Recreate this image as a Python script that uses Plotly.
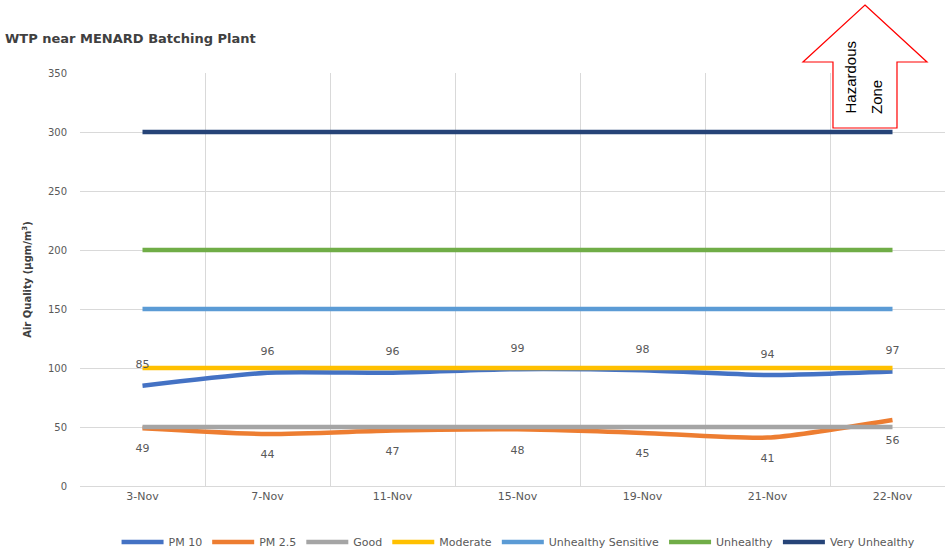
import plotly.graph_objects as go

categories = ["3-Nov", "7-Nov", "11-Nov", "15-Nov", "19-Nov", "21-Nov", "22-Nov"]
pm10 = [85, 96, 96, 99, 98, 94, 97]
pm25 = [49, 44, 47, 48, 45, 41, 56]
good = [50] * 7
moderate = [100] * 7
unhealthy_sensitive = [150] * 7
unhealthy = [200] * 7
very_unhealthy = [300] * 7

W, H = 945, 554
L, R, T, B = 80, 0, 73, 68
pw, ph = W - L - R, H - T - B
FONT = "DejaVu Sans, Arial"

def px(x):
    return (x - L) / pw

def py(y):
    return (H - B - y) / ph

fig = go.Figure()
series = [
    ("PM 10", pm10, "#4472C4"),
    ("PM 2.5", pm25, "#ED7D31"),
    ("Good", good, "#A5A5A5"),
    ("Moderate", moderate, "#FFC000"),
    ("Unhealthy Sensitive", unhealthy_sensitive, "#5B9BD5"),
    ("Unhealthy", unhealthy, "#70AD47"),
    ("Very Unhealthy", very_unhealthy, "#264478"),
]
for name, vals, col in series:
    fig.add_trace(go.Scatter(
        x=categories, y=vals, name=name, mode="lines",
        line=dict(color=col, width=4.5, shape="spline", smoothing=0.6),
    ))

# data labels
fig.add_trace(go.Scatter(
    x=categories, y=pm10, mode="markers+text", text=[str(v) for v in pm10],
    marker=dict(size=22, opacity=0),
    textposition="top center", showlegend=False, hoverinfo="skip",
    textfont=dict(size=11, color="#595959", family=FONT),
))
fig.add_trace(go.Scatter(
    x=categories, y=pm25, mode="markers+text", text=[str(v) for v in pm25],
    marker=dict(size=24, opacity=0),
    textposition="bottom center", showlegend=False, hoverinfo="skip",
    textfont=dict(size=11, color="#595959", family=FONT),
))

# Hazardous zone arrow
pts = [(865, 5), (927, 62), (897, 62), (897, 128), (833, 128), (833, 62), (803, 62)]
path = "M " + " L ".join(f"{px(x):.4f},{py(y):.4f}" for x, y in pts) + " Z"
fig.add_shape(type="path", path=path, xref="paper", yref="paper",
              line=dict(color="#FF0000", width=1.2), fillcolor="white", layer="above")
fig.add_annotation(x=px(850), y=py(116), xref="paper", yref="paper",
                   text="Hazardous", showarrow=False, textangle=-90,
                   xanchor="center", yanchor="bottom",
                   font=dict(size=15, color="#000000", family="Liberation Sans, Arial"))
fig.add_annotation(x=px(876), y=py(116), xref="paper", yref="paper",
                   text="Zone", showarrow=False, textangle=-90,
                   xanchor="center", yanchor="bottom",
                   font=dict(size=15, color="#000000", family="Liberation Sans, Arial"))

fig.update_layout(
    width=W, height=H,
    margin=dict(l=L, r=R, t=T, b=B, autoexpand=False),
    paper_bgcolor="white", plot_bgcolor="white",
    font=dict(family=FONT, color="#595959", size=11),
    title=dict(text="<b>WTP near MENARD Batching Plant</b>", x=5 / W, xanchor="left",
               y=1 - 38 / H, yanchor="middle",
               font=dict(size=13, color="#404040", family=FONT)),
    showlegend=True,
    legend=dict(orientation="h", x=0.507, xanchor="center", y=py(542), yanchor="middle",
                font=dict(size=11, color="#595959", family=FONT), tracegroupgap=0,
                itemwidth=42),
    xaxis=dict(type="category", range=[-0.5, 6.42], tickson="boundaries",
               showgrid=True, gridcolor="#D9D9D9", gridwidth=1, ticks="",
               showline=True, linecolor="#D9D9D9", zeroline=False,
               tickfont=dict(size=11, color="#595959"), fixedrange=True),
    yaxis=dict(range=[0, 350], dtick=50, showgrid=True, gridcolor="#D9D9D9",
               zeroline=False, ticks="", ticklabelstandoff=12,
               title=dict(text="<b>Air Quality (µgm/m<sup>3</sup>)</b>",
                          font=dict(size=10, color="#404040", family=FONT), standoff=14),
               tickfont=dict(size=10, color="#595959")),
)

fig.write_html("out.html", post_script="document.body.style.margin='0';",
               config={"displayModeBar": False})
